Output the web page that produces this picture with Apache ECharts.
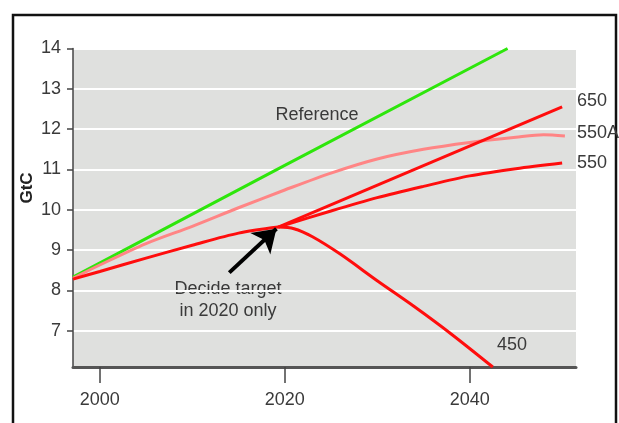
<!DOCTYPE html>
<html>
<head>
<meta charset="utf-8">
<script src="https://cdn.jsdelivr.net/npm/echarts@6/dist/echarts.min.js"></script>
<style>
  html, body { margin: 0; padding: 0; background: #fff; }
  #chart { width: 619px; height: 423px; }
</style>
</head>
<body>
<div id="chart"></div>
<script>
// values (year, GtC)
const refYears = [1997.1, 2020, 2044.1];
const refValues = [8.33, 11.1, 14.0];

const baseYears = [1997.1, 2000, 2005, 2010, 2015, 2019.3];
const baseValues = [8.28, 8.47, 8.8, 9.12, 9.42, 9.57];

const a550Years = [1997.1, 2000, 2005, 2010, 2015, 2020, 2025, 2030, 2035, 2040, 2045, 2048, 2050.3];
const a550Values = [8.3, 8.63, 9.16, 9.59, 10.05, 10.49, 10.91, 11.26, 11.5, 11.67, 11.8, 11.86, 11.83];

const s650Years = [2019.3, 2050];
const s650Values = [9.57, 12.55];

const s550Years = [2019.3, 2025, 2030, 2035, 2040, 2045, 2050];
const s550Values = [9.57, 9.97, 10.3, 10.58, 10.84, 11.02, 11.16];

const s450Years = [2019.3, 2021, 2023, 2026, 2030, 2034, 2038, 2042.5];
const s450Values = [9.57, 9.53, 9.33, 8.9, 8.24, 7.6, 6.92, 6.1];

const xTicks = [2000, 2020, 2040];
const yTicks = [7, 8, 9, 10, 11, 12, 13, 14];

// arrow "Decide target in 2020 only"
const arrowFrom = [2014.0, 8.44];
const arrowTo = [2019.1, 9.53];

const pairs = (xs, ys) => xs.map((x, i) => [x, ys[i]]);

const font = "'Liberation Sans Narrow', 'Arial Narrow', 'Liberation Sans', sans-serif";
const txt = "#3a3a3a";

const myChart = echarts.init(document.getElementById("chart"), null, { renderer: "canvas" });

function line(name, data, color, extra) {
  return Object.assign({
    name: name,
    type: "line",
    data: data,
    showSymbol: false,
    smooth: 0.3,
    lineStyle: { color: color, width: 3 },
    itemStyle: { color: color },
    silent: true,
    animation: false
  }, extra || {});
}

function label(text, x, y, align) {
  return {
    type: "text", x: x, y: y,
    style: { text: text, fill: txt, font: "18px " + font, lineHeight: 22, align: align || "center", verticalAlign: "middle" }
  };
}

let option = {
  backgroundColor: "#fff",
  animation: false,
  grid: {
    left: 73,
    right: 43,
    top: 48.5,
    bottom: 56,
    show: true,
    backgroundColor: "#dfe0de",
    borderWidth: 0
  },
  xAxis: {
    type: "value",
    min: 1997.1,
    max: 2051.5,
    axisLine: { lineStyle: { color: "#555", width: 3 } },
    axisTick: { customValues: xTicks, length: 16, lineStyle: { color: "#444", width: 1.5 } },
    axisLabel: {
      customValues: xTicks,
      margin: 24,
      color: txt,
      fontSize: 18,
      fontFamily: font,
      formatter: v => String(v)
    },
    splitLine: { show: false }
  },
  yAxis: {
    type: "value",
    min: 6.1,
    max: 14,
    splitNumber: 8,
    axisLine: { show: true, lineStyle: { color: "#444", width: 1.5 } },
    axisTick: { show: true, customValues: yTicks, length: 6, lineStyle: { color: "#444", width: 1.5 } },
    axisLabel: {
      customValues: yTicks,
      margin: 12,
      color: txt,
      fontSize: 18,
      fontFamily: font
    },
    splitLine: { lineStyle: { color: "#fff", width: 2 } }
  },
  series: [
    line("Reference", pairs(refYears, refValues), "#2ee60c", { smooth: false }),
    line("550A", pairs(a550Years, a550Values), "#ff8585"),
    line("base", pairs(baseYears, baseValues), "#ff0d0d", {
      markLine: {
        silent: true,
        symbol: ["none", "arrow"],
        symbolSize: 22,
        label: { show: false },
        lineStyle: { color: "#000", width: 4, type: "solid" },
        data: [[{ coord: arrowFrom }, { coord: arrowTo }]]
      }
    }),
    line("650", pairs(s650Years, s650Values), "#ff0d0d", { smooth: false }),
    line("550", pairs(s550Years, s550Values), "#ff0d0d"),
    line("450", pairs(s450Years, s450Values), "#ff0d0d")
  ],
  graphic: [
    {
      type: "rect",
      shape: { x: 13, y: 15, width: 603, height: 430 },
      style: { fill: "none", stroke: "#111", lineWidth: 2.5 },
      silent: true
    },
    {
      type: "text",
      x: 27, y: 188,
      rotation: Math.PI / 2,
      style: { text: "GtC", fill: "#222", font: "bold 17px " + font, align: "center", verticalAlign: "middle" }
    },
    label("Reference", 317, 115),
    label("Decide target\nin 2020 only", 228, 300),
    label("450", 512, 345),
    label("650", 577, 101, "left"),
    label("550A", 577, 133, "left"),
    label("550", 577, 163, "left")
  ]
};

option && myChart.setOption(option);
</script>
</body>
</html>
